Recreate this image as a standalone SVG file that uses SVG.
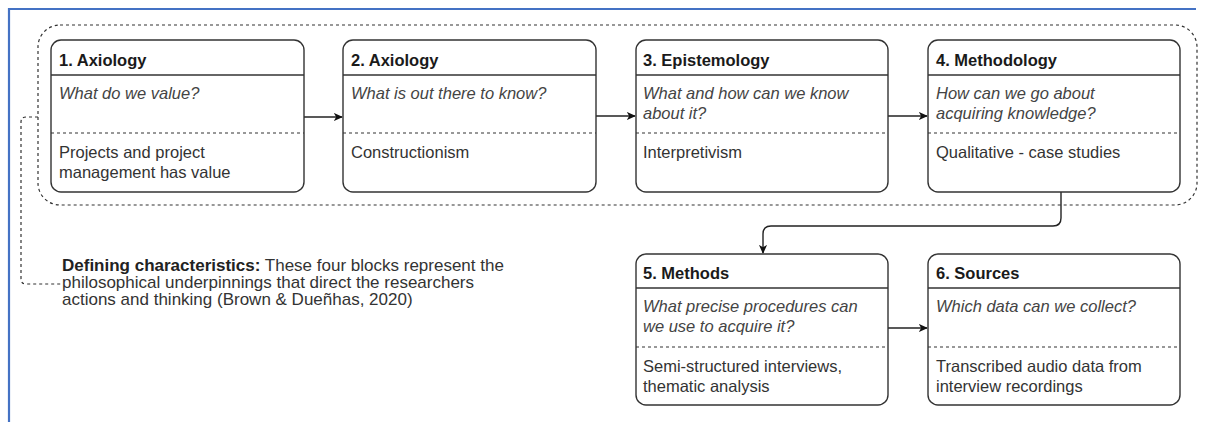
<svg xmlns="http://www.w3.org/2000/svg" width="1205" height="422" viewBox="0 0 1205 422">
<defs>
<marker id="arr" viewBox="0 0 10 10" refX="9" refY="5" markerWidth="9" markerHeight="9" markerUnits="userSpaceOnUse" orient="auto">
<path d="M0,0.5 L10,5 L0,9.5 L2.5,5 Z" fill="#111"/>
</marker>
<style>
text{font-family:"Liberation Sans",Arial,sans-serif;font-size:16.5px;fill:#333}
.t{font-weight:bold;fill:#1a1a1a}
.q{font-style:italic;fill:#444}
.box{fill:#fff;stroke:#333;stroke-width:1.4}
.sep{stroke:#333;stroke-width:1.3}
.dsep{stroke:#333;stroke-width:1.2;stroke-dasharray:3 3}
.edge{fill:none;stroke:#222;stroke-width:1.4}
.dedge{fill:none;stroke:#333;stroke-width:1.2;stroke-dasharray:3 3}
.blk{font-size:17px}
</style>
</defs>
<rect width="1205" height="422" fill="#fff"/>
<path d="M9,422 V9 H1196" fill="none" stroke="#4472C4" stroke-width="2.2"/>
<g id="group-outline">
<rect x="38" y="25" width="1159" height="180" rx="22" ry="22" fill="none" stroke="#333" stroke-width="1.2" stroke-dasharray="3 3"/>
</g>
<g id="connectors">
<path class="edge" d="M304,117 H342" marker-end="url(#arr)"/>
<path class="edge" d="M596,116 H635" marker-end="url(#arr)"/>
<path class="edge" d="M888,116 H927" marker-end="url(#arr)"/>
<path class="edge" d="M1061,192 V218 Q1061,226 1053,226 H771 Q763,226 763,234 V253" marker-end="url(#arr)"/>
<path class="edge" d="M888,328 H927" marker-end="url(#arr)"/>
<path class="dedge" d="M38,117 H26 Q21,117 21,122 V279 Q21,284 26,284 H61"/>
</g>
<g id="n1">
<rect class="box" x="51" y="40" width="253" height="152" rx="10"/>
<line class="sep" x1="51" y1="75" x2="304" y2="75"/>
<line class="dsep" x1="51" y1="133" x2="304" y2="133"/>
<text class="t" x="59" y="66">1. Axiology</text>
<text class="q" x="59" y="99">What do we value?</text>
<text x="59" y="158">Projects and project</text>
<text x="59" y="178">management has value</text>
</g>
<g id="n2">
<rect class="box" x="343" y="40" width="253" height="152" rx="10"/>
<line class="sep" x1="343" y1="75" x2="596" y2="75"/>
<line class="dsep" x1="343" y1="133" x2="596" y2="133"/>
<text class="t" x="351" y="66">2. Axiology</text>
<text class="q" x="351" y="99">What is out there to know?</text>
<text x="351" y="158">Constructionism</text>
</g>
<g id="n3">
<rect class="box" x="636" y="40" width="252" height="152" rx="10"/>
<line class="sep" x1="636" y1="75" x2="888" y2="75"/>
<line class="dsep" x1="636" y1="133" x2="888" y2="133"/>
<text class="t" x="643" y="66">3. Epistemology</text>
<text class="q" x="643" y="99">What and how can we know</text>
<text class="q" x="643" y="119">about it?</text>
<text x="643" y="158">Interpretivism</text>
</g>
<g id="n4">
<rect class="box" x="928" y="40" width="252" height="152" rx="10"/>
<line class="sep" x1="928" y1="75" x2="1180" y2="75"/>
<line class="dsep" x1="928" y1="133" x2="1180" y2="133"/>
<text class="t" x="936" y="66">4. Methodology</text>
<text class="q" x="936" y="99">How can we go about</text>
<text class="q" x="936" y="119">acquiring knowledge?</text>
<text x="936" y="158">Qualitative - case studies</text>
</g>
<g id="n5">
<rect class="box" x="636" y="254" width="252" height="151" rx="10"/>
<line class="sep" x1="636" y1="288" x2="888" y2="288"/>
<line class="dsep" x1="636" y1="347" x2="888" y2="347"/>
<text class="t" x="643" y="279">5. Methods</text>
<text class="q" x="643" y="312">What precise procedures can</text>
<text class="q" x="643" y="332">we use to acquire it?</text>
<text x="643" y="372">Semi-structured interviews,</text>
<text x="643" y="392">thematic analysis</text>
</g>
<g id="n6">
<rect class="box" x="928" y="254" width="252" height="151" rx="10"/>
<line class="sep" x1="928" y1="288" x2="1180" y2="288"/>
<line class="dsep" x1="928" y1="347" x2="1180" y2="347"/>
<text class="t" x="936" y="279">6. Sources</text>
<text class="q" x="936" y="312">Which data can we collect?</text>
<text x="936" y="372">Transcribed audio data from</text>
<text x="936" y="392">interview recordings</text>
</g>
<g id="note">
<text class="blk" x="62" y="271"><tspan class="t" style="fill:#222">Defining characteristics:</tspan> These four blocks represent the</text>
<text class="blk" x="62" y="288">philosophical underpinnings that direct the researchers</text>
<text class="blk" x="62" y="305">actions and thinking (Brown &amp; Dueñhas, 2020)</text>
</g>
</svg>
